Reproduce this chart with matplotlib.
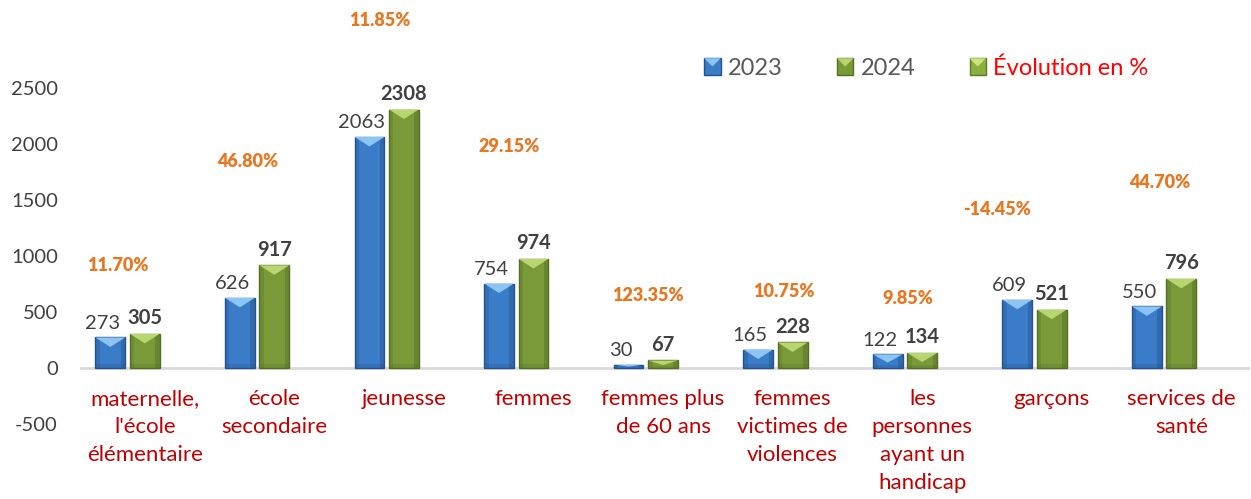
import matplotlib
matplotlib.use("Agg")
import matplotlib.pyplot as plt
from matplotlib.patches import Polygon, Rectangle
from matplotlib.legend_handler import HandlerBase

categories = ["maternelle,\nl'école\nélémentaire", "école\nsecondaire", "jeunesse", "femmes",
              "femmes plus\nde 60 ans", "femmes\nvictimes de\nviolences", "les\npersonnes\nayant un\nhandicap",
              "garçons", "services de\nsanté"]
v2023 = [273, 626, 2063, 754, 30, 165, 122, 609, 550]
v2024 = [305, 917, 2308, 974, 67, 228, 134, 521, 796]
evolution = ["11.70%", "46.80%", "11.85%", "29.15%", "123.35%", "10.75%", "9.85%", "-14.45%", "44.70%"]
# where the percentage labels sit (value-axis height, horizontal shift in category units)
evo_label_y = [911, 1848, 3107, 1982, 643, 679, 625, 1411, 1652]
evo_label_dx = [-0.21, -0.21, -0.19, -0.19, -0.12, -0.07, -0.11, -0.42, -0.17]
yticks = [-500, 0, 500, 1000, 1500, 2000, 2500]

FONT = "Lato"
BLUE, BLUE_D, BLUE_L = "#3a7cc8", "#24528c", "#8cc4f4"
GREEN, GREEN_D, GREEN_L = "#7a9a3a", "#546e22", "#b8d670"
GREEN3, GREEN3_D, GREEN3_L = "#8cb040", "#5e7a24", "#cce47e"

fig = plt.figure(figsize=(12.51, 4.99), dpi=100)
ax = fig.add_axes([80/1251, 75/499, 1170/1251, 392/499])
ax.set_xlim(-0.5, 8.53)
ax.set_ylim(-500, 3000)

w = 0.23
off = 0.266
x = list(range(len(categories)))

def bevel_bars(xs, vals, base, dark, light):
    bars = ax.bar(xs, vals, width=w, color=base, edgecolor=dark, linewidth=1.0, zorder=3)
    for b in bars:
        x0 = b.get_x(); x1 = x0 + b.get_width(); h = b.get_height(); xc = x0 + w / 2
        d = min(85, h * 0.6)
        ax.add_patch(Rectangle((x0, 0), w*0.15, h, facecolor=dark, edgecolor="none", alpha=0.3, zorder=4))
        ax.add_patch(Rectangle((x1 - w*0.15, 0), w*0.15, h, facecolor=dark, edgecolor="none", alpha=0.45, zorder=4))
        ax.add_patch(Rectangle((x0, 0), w, min(40, h*0.2), facecolor=dark, edgecolor="none", alpha=0.25, zorder=4))
        ax.add_patch(Polygon([(x0, h), (x1, h), (xc, h - d)],
                             closed=True, facecolor=light, edgecolor="none", zorder=5))
    return bars

bevel_bars([i - off for i in x], v2023, BLUE, BLUE_D, BLUE_L)
bevel_bars(x, v2024, GREEN, GREEN_D, GREEN_L)

for i in x:
    ax.annotate(str(v2023[i]), (i - off - 0.06, v2023[i]), xytext=(0, 4), textcoords="offset points",
                ha="center", va="bottom", fontsize=14.5, color="#404040", family=FONT)
    ax.annotate(str(v2024[i]), (i, v2024[i]), xytext=(0, 4), textcoords="offset points",
                ha="center", va="bottom", fontsize=14.5, color="#404040", family=FONT, fontweight="bold")
    ax.text(i + evo_label_dx[i], evo_label_y[i], evolution[i], ha="center", va="center",
            fontsize=13, color="#e87722", family=FONT, fontweight="heavy")
    ax.annotate(categories[i], (i, 0), xytext=(0, -15), textcoords="offset points",
                ha="center", va="top", fontsize=16, color="#c00000", family=FONT, linespacing=1.5)

ax.axhline(0, color="#d9d9d9", linewidth=2, zorder=2)
for s in ax.spines.values():
    s.set_visible(False)
ax.set_xticks([])
ax.set_yticks(yticks)
ax.set_yticklabels([str(t) for t in yticks], family=FONT, fontsize=14.5, color="#404040")
ax.tick_params(axis="y", length=0, pad=16)

class BevelHandler(HandlerBase):
    def __init__(self, base, dark, light):
        super().__init__()
        self.c = (base, dark, light)
    def create_artists(self, legend, orig, xd, yd, width, height, fontsize, trans):
        base, dark, light = self.c
        s = min(width, height) * 1.0
        x0 = xd + width - s; y0 = yd + (height - s) / 2
        r = Rectangle((x0, y0), s, s, facecolor=base, edgecolor=dark, linewidth=1, transform=trans)
        t = Polygon([(x0, y0 + s), (x0 + s, y0 + s), (x0 + s/2, y0 + s*0.5)], facecolor=light,
                    edgecolor="none", transform=trans)
        return [r, t]

h1 = Rectangle((0, 0), 1, 1); h2 = Rectangle((0, 0), 1, 1); h3 = Rectangle((0, 0), 1, 1)
leg = fig.legend([h1, h2, h3], ["2023", "2024", "Évolution en %"],
                 handler_map={h1: BevelHandler(BLUE, BLUE_D, BLUE_L),
                              h2: BevelHandler(GREEN, GREEN_D, GREEN_L),
                              h3: BevelHandler(GREEN3, GREEN3_D, GREEN3_L)},
                 loc="center left", bbox_to_anchor=(690/1251, 1 - 68/499), ncol=3, frameon=False,
                 prop={"family": FONT, "size": 17}, handlelength=0.8, handletextpad=0.3,
                 columnspacing=2.2, borderpad=0)
texts = leg.get_texts()
texts[0].set_color("#595959"); texts[1].set_color("#595959"); texts[2].set_color("#ff0000")

fig.savefig("out.png", dpi=100)
